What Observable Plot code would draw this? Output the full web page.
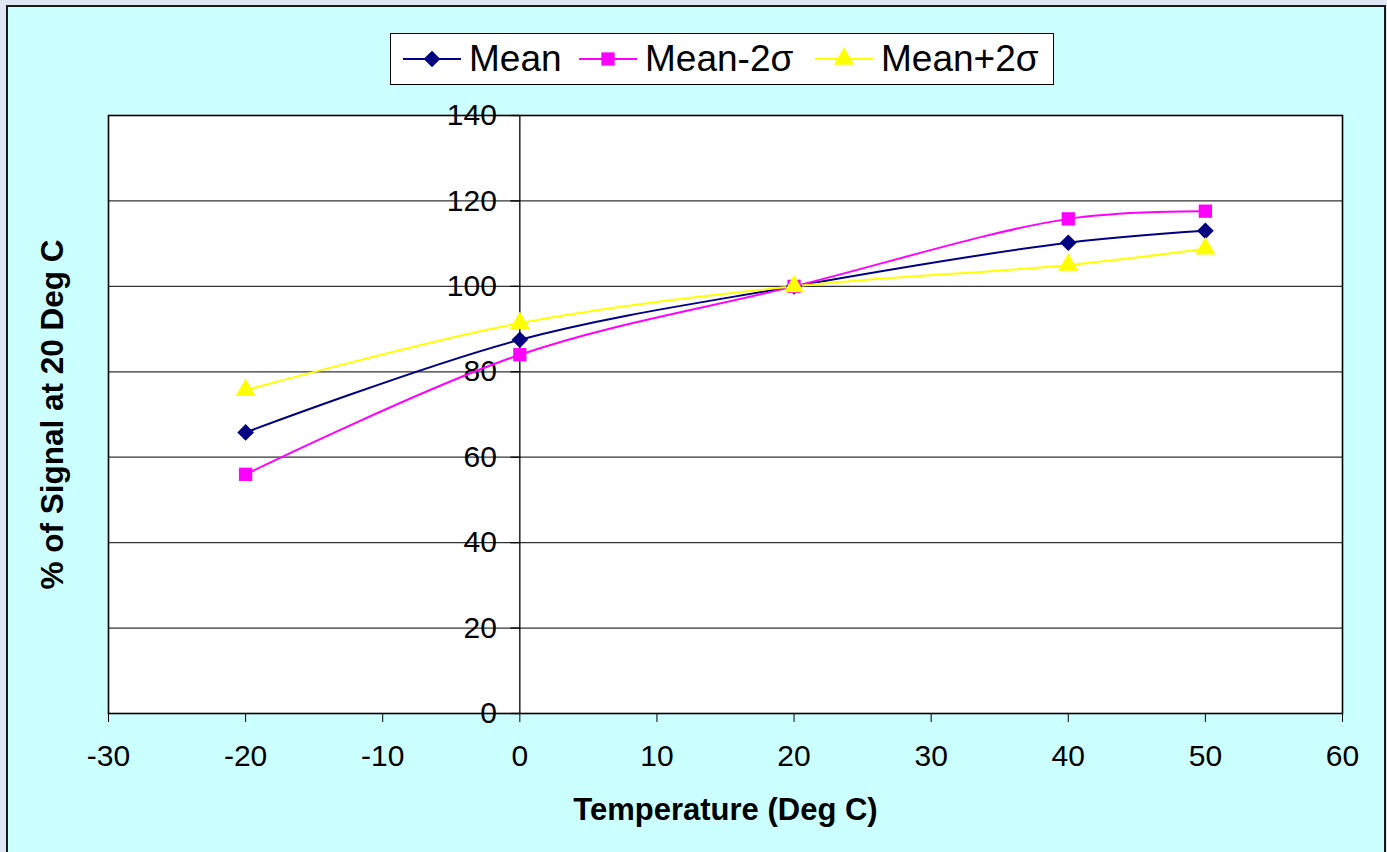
<!DOCTYPE html>
<html>
<head>
<meta charset="utf-8">
<script src="https://cdn.jsdelivr.net/npm/d3@7"></script>
<script src="https://cdn.jsdelivr.net/npm/@observablehq/plot@0.6"></script>
<style>
  html, body { margin: 0; padding: 0; background: #DFE7F2; width: 1387px; height: 852px; overflow: hidden; font-family: "Liberation Sans", Arial, sans-serif; }
  #outer { position: absolute; left: 6px; top: 5px; width: 1376px; height: 900px; border: 2px solid #1a1a1a; background: #CCFFFF; }
  #chart { position: absolute; left: 0; top: 0; }
  #legend { position: absolute; left: 390px; top: 33px; width: 664px; height: 52px; border: 1.5px solid #000; background: #fff; box-sizing: border-box; }
  .item { position: absolute; top: 0; height: 100%; display: flex; align-items: center; font-size: 37px; color: #000; }
  .item svg { margin-right: 8px; }
</style>
</head>
<body>
<div id="outer"></div>
<div id="chart"></div>
<div id="legend"></div>
<script>
const temps = [-20, 0, 20, 40, 50];
const meanValues = [65.8, 87.5, 100, 110.2, 113.0];
const meanMinus2s = [56.0, 84.0, 100, 115.8, 117.6];
const meanPlus2s = [75.7, 91.4, 100, 105.0, 108.8];
const seriesNames = ["Mean", "Mean-2σ", "Mean+2σ"];
const seriesColors = ["#000080", "#FF00FF", "#FFFF00"];
const seriesSymbols = ["diamond2", "square", "triangle"];
const xTicks = [-30, -20, -10, 0, 10, 20, 30, 40, 50, 60];
const yTicks = [0, 20, 40, 60, 80, 100, 120, 140];

const seriesValues = [meanValues, meanMinus2s, meanPlus2s];
const data = seriesNames.flatMap((name, i) =>
  temps.map((t, j) => ({series: name, temp: t, value: seriesValues[i][j]})));

const font = '"Liberation Sans", Arial, sans-serif';
const markR = 7.5;

const plot = Plot.plot({
  width: 1387,
  height: 852,
  marginLeft: 108,
  marginRight: 45,
  marginTop: 115,
  marginBottom: 139,
  style: {background: "transparent", fontFamily: font, color: "#000"},
  x: {domain: [-30, 60], axis: null},
  y: {domain: [0, 140], axis: null},
  color: {domain: seriesNames, range: seriesColors},
  symbol: {domain: seriesNames, range: seriesSymbols},
  marks: [
    Plot.frame({fill: "white"}),
    Plot.ruleY(yTicks.filter(d => d > 0 && d < 140), {y: d => d, stroke: "#333", strokeWidth: 1.3}),
    Plot.ruleX([0], {stroke: "#000", strokeWidth: 1.3}),
    Plot.ruleY(yTicks, {y: d => d, x1: 0, x2: -0.65, stroke: "#000", strokeWidth: 1.3}),
    Plot.text(yTicks, {x: 0, y: d => d, text: d => String(d), textAnchor: "end", dx: -23, fontSize: 30}),
    Plot.axisX({ticks: xTicks, tickSize: 9, tickPadding: 22, fontSize: 30, tickFormat: d => String(d), stroke: "#000", label: null}),
    Plot.frame({stroke: "#000", strokeWidth: 1.6}),
    Plot.line(data, {x: "temp", y: "value", z: "series", stroke: "series", strokeWidth: 2, curve: "catmull-rom"}),
    Plot.dot(data, {x: "temp", y: "value", symbol: "series", fill: "series", stroke: "none", r: markR}),
    Plot.text(["Temperature (Deg C)"], {frameAnchor: "bottom", dy: 106, fontSize: 31, fontWeight: "bold", textAnchor: "middle"}),
    Plot.text(["% of Signal at 20 Deg C"], {frameAnchor: "left", dx: -56, rotate: -90, fontSize: 31.5, fontWeight: "bold", textAnchor: "middle"})
  ]
});
document.getElementById("chart").appendChild(plot);

// Legend
const legend = document.getElementById("legend");
const itemLefts = [12, 188, 424];
seriesNames.forEach((name, i) => {
  const item = document.createElement("div");
  item.className = "item";
  item.style.left = itemLefts[i] + "px";
  const sym = d3.symbol().type(
    seriesSymbols[i] === "diamond2" ? d3.symbolDiamond2 :
    seriesSymbols[i] === "square" ? d3.symbolSquare : d3.symbolTriangle
  ).size(Math.PI * markR * markR)();
  item.innerHTML =
    `<svg width="58" height="30" viewBox="0 0 58 30"><line x1="0" x2="58" y1="15" y2="15" stroke="${seriesColors[i]}" stroke-width="2"/>` +
    `<path d="${sym}" transform="translate(29,15)" fill="${seriesColors[i]}"/></svg><span>${name}</span>`;
  legend.appendChild(item);
});
</script>
</body>
</html>
